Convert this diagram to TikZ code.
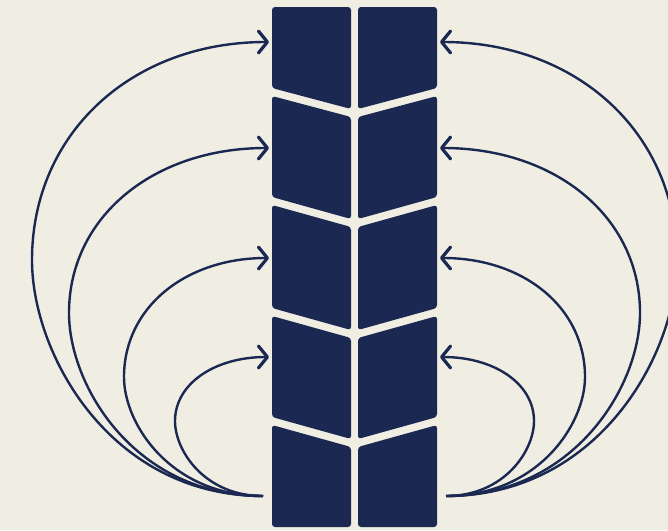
\documentclass[tikz,border=0pt]{standalone}
\usetikzlibrary{arrows.meta}
\definecolor{bg}{RGB}{240,238,227}
\definecolor{navy}{RGB}{27,41,82}
\begin{document}
\begin{tikzpicture}[x=1pt,y=-1pt,
  seg/.style={fill=navy, rounded corners=3pt},
  loopline/.style={draw=navy, line width=2.4pt,
    -{Straight Barb[length=9pt,width=22pt,line width=3.2pt,round]}}]
\fill[bg] (0,0) rectangle (668,530);
\useasboundingbox (0,0) rectangle (668,530);
\clip (0,0) rectangle (668,530);
% column segments
\foreach \o/\i in {272/351,437/358}{
  \fill[seg] (\o,7) -- (\i,7) -- (\i,109) -- (\o,88) -- cycle;
  \fill[seg] (\o,96) -- (\i,117) -- (\i,219) -- (\o,197) -- cycle;
  \fill[seg] (\o,205) -- (\i,227) -- (\i,330) -- (\o,308) -- cycle;
  \fill[seg] (\o,316) -- (\i,338) -- (\i,439) -- (\o,417) -- cycle;
  \fill[seg] (\o,425) -- (\i,447) -- (\i,527) -- (\o,527) -- cycle;
}
\coordinate (sL) at (263,496);
\coordinate (sR) at (446,496);
\foreach \n/\lx/\ly/\ey in {1/32/260/42, 2/69/313/148, 3/124/377/258, 4/175/421/357}{
  \foreach \side/\c/\d in {L/0/1, R/709/-1}{
    \coordinate (m\side\n) at ({\c+\d*\lx},\ly);
    \coordinate (e\side\n) at ({\c+\d*269},\ey);
    \draw[loopline] (s\side)
      .. controls ({\c+\d*(263-0.66*(263-\lx))},496) and ({\c+\d*\lx},{496-0.6*(496-\ly)}) .. (m\side\n)
      .. controls ({\c+\d*\lx},{\ly-0.58*(\ly-\ey)}) and ({\c+\d*(269-0.58*(269-\lx))},\ey) .. (e\side\n);
  }
}
\end{tikzpicture}
\end{document}
